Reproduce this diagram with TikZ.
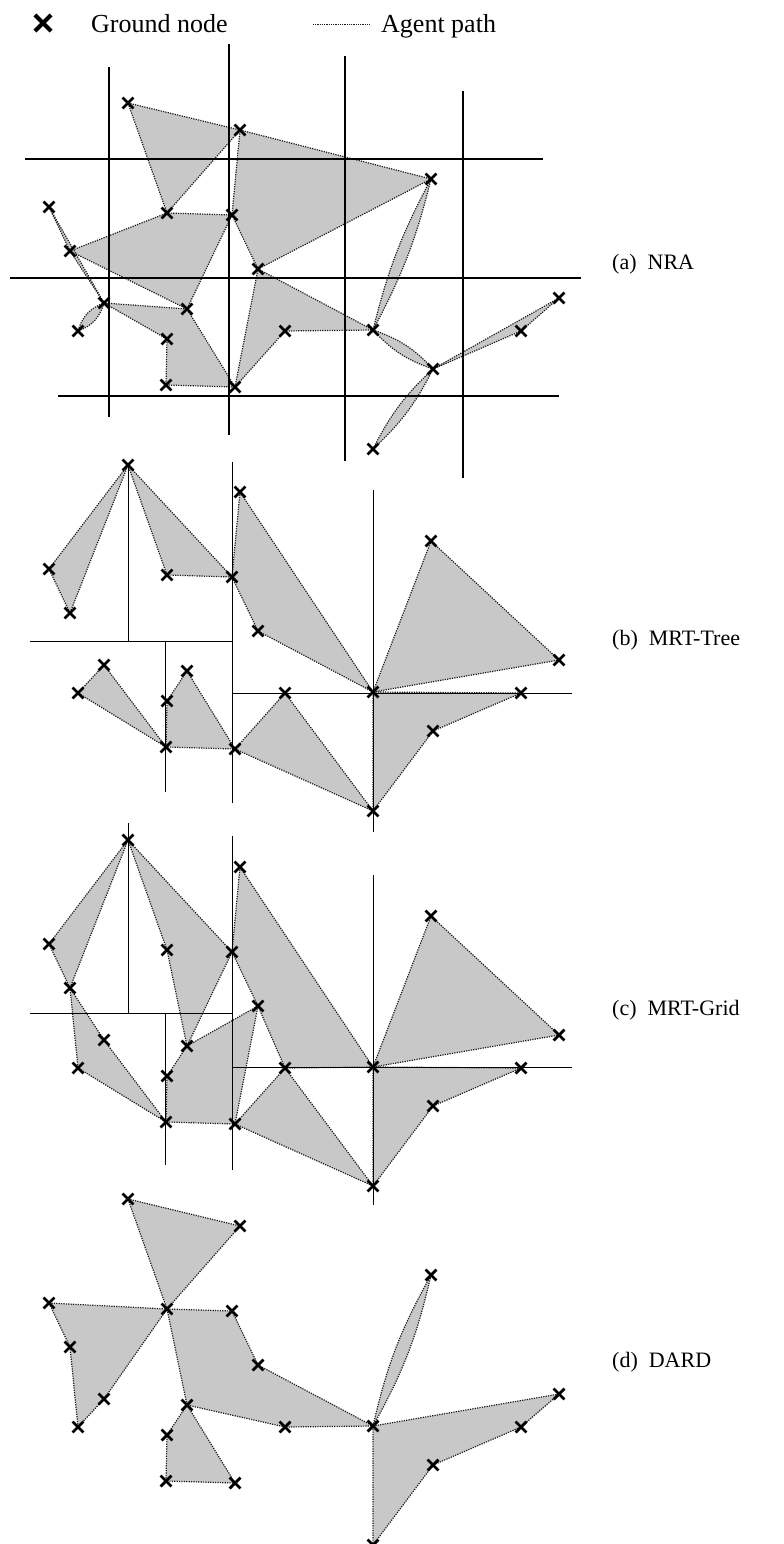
\documentclass[tikz,border=0pt]{standalone}
\usepackage{fontspec}
\setmainfont{Liberation Serif}
\usetikzlibrary{shapes.misc}
\definecolor{fillgray}{RGB}{200,200,200}
\tikzset{
  agent/.style={fill=fillgray, draw=black!90, line width=1.2pt, dash pattern=on 1.2pt off 1.2pt, line join=round},
  partA/.style={draw=black, line width=1.4pt},
  partB/.style={draw=black, line width=1.0pt},
  gnode/.style={cross out, draw=black, line width=2.8pt, minimum size=8pt, inner sep=0pt},
  bignode/.style={cross out, draw=black, line width=4.2pt, minimum size=12pt, inner sep=0pt},
  lbl/.style={anchor=base west, font=\fontsize{22}{26}\selectfont, inner sep=0pt},
  leg/.style={anchor=base west, font=\fontsize{26}{30}\selectfont, inner sep=0pt},
}
\newcommand\defpts[2]{%
  \foreach \n/\px/\py in {1/128/103,2/240/130,3/167/213,4/232/215,5/49/207,6/70/251,7/258/269,8/104/303,9/187/309,10/78/331,11/167/339,12/285/331,13/166/385,14/235/387,15/431/179,16/373/330,17/433/369,18/521/331,19/559/298,20/373/449}
  {\coordinate (#1\n) at (\px,\py+#2);}%
}
\newcommand\crosses[1]{\foreach \n in {1,...,20}{\node[gnode] (x#1\n) at (#1\n) {};}}
\begin{document}
\begin{tikzpicture}[x=1pt,y=-1pt]
\useasboundingbox[fill=white] (0,0) rectangle (784,1544);
\defpts{a}{0}
\defpts{b}{362}
\defpts{c}{737}
\defpts{d}{1096}

% legend
\node[bignode] (lg1) at (43,23) {};
\node[leg] (lg2) at (91,33) {Ground node};
\coordinate (ls) at (313,24);
\coordinate (le) at (370,24);
\draw[agent, fill=none, line width=0.9pt, dash pattern=on 0.9pt off 0.9pt] (ls) -- (le);
\node[leg] (lg3) at (381,33) {Agent path};

% ---------- (a) NRA ----------
\path[agent] (a1) -- (a2) -- (a3) -- cycle;
\path[agent] (a2) -- (a15) -- (a7) -- (a4) -- cycle;
\path[agent] (a6) -- (a3) -- (a4) -- (a9) -- cycle;
\path[agent] (a5) -- (a6) -- (a8) -- cycle;
\path[agent] (a8) to[bend left=27] (a10) to[bend left=27] (a8);
\path[agent] (a8) -- (a9) -- (a14) -- (a13) -- (a11) -- cycle;
\path[agent] (a14) -- (a7) -- (a16) -- (a12) -- cycle;
\path[agent] (a15) to[bend left=7] (a16) to[bend left=7] (a15);
\path[agent] (a16) to[bend left=14] (a17) to[bend left=14] (a16);
\path[agent] (a17) -- (a19) -- (a18) -- cycle;
\path[agent] (a17) to[bend left=10] (a20) to[bend left=10] (a17);
\draw[partA] (109,67) -- (109,417);
\draw[partA] (229,44) -- (229,435);
\draw[partA] (345,56) -- (345,461);
\draw[partA] (463,91) -- (463,478);
\draw[partA] (25,159) -- (543,159);
\draw[partA] (10,278) -- (581,278);
\draw[partA] (58,396) -- (559,396);
\crosses{a}
\node[lbl] (la) at (612,269) {(a)\hspace{0.5em}NRA};

% ---------- (b) MRT-Tree ----------
\path[agent] (b1) -- (b5) -- (b6) -- cycle;
\path[agent] (b1) -- (b3) -- (b4) -- cycle;
\path[agent] (b4) -- (b2) -- (b16) -- (b7) -- cycle;
\path[agent] (b16) -- (b15) -- (b19) -- cycle;
\path[agent] (b16) -- (b18) -- (b17) -- (b20) -- cycle;
\path[agent] (b14) -- (b12) -- (b20) -- cycle;
\path[agent] (b10) -- (b8) -- (b13) -- cycle;
\path[agent] (b13) -- (b11) -- (b9) -- (b14) -- cycle;
\draw[partB] (128,465) -- (128,641);
\draw[partB] (30,641) -- (232,641);
\draw[partB] (232,462) -- (232,803);
\draw[partB] (165,641) -- (165,792);
\draw[partB] (232,693) -- (572,693);
\draw[partB] (373,490) -- (373,832);
\crosses{b}
\node[lbl] (lb) at (612,645) {(b)\hspace{0.5em}MRT-Tree};

% ---------- (c) MRT-Grid ----------
\path[agent] (c1) -- (c5) -- (c6) -- cycle;
\path[agent] (c1) -- (c3) -- (c9) -- (c4) -- cycle;
\path[agent] (c6) -- (c8) -- (c13) -- (c10) -- cycle;
\path[agent] (c9) -- (c7) -- (c14) -- (c13) -- (c11) -- cycle;
\path[agent] (c4) -- (c2) -- (c16) -- (c12) -- (c7) -- cycle;
\path[agent] (c16) -- (c15) -- (c19) -- cycle;
\path[agent] (c16) -- (c18) -- (c17) -- (c20) -- cycle;
\path[agent] (c14) -- (c12) -- (c20) -- cycle;
\draw[partB] (128,823) -- (128,1013);
\draw[partB] (30,1013) -- (232,1013);
\draw[partB] (232,836) -- (232,1170);
\draw[partB] (165,1013) -- (165,1165);
\draw[partB] (232,1067) -- (572,1067);
\draw[partB] (373,875) -- (373,1205);
\crosses{c}
\node[lbl] (lc) at (612,1015) {(c)\hspace{0.5em}MRT-Grid};

% ---------- (d) DARD ----------
\path[agent] (d1) -- (d2) -- (d3) -- cycle;
\path[agent] (d5) -- (d3) -- (d8) -- (d10) -- (d6) -- cycle;
\path[agent] (d3) -- (d4) -- (d7) -- (d16) -- (d12) -- (d9) -- cycle;
\path[agent] (d9) -- (d14) -- (d13) -- (d11) -- cycle;
\path[agent] (d16) to[bend left=8] (d15) to[bend left=8] (d16);
\path[agent] (d16) -- (d19) -- (d18) -- (d17) -- (d20) -- cycle;
\crosses{d}
\node[lbl] (ld) at (612,1367) {(d)\hspace{0.5em}DARD};
\end{tikzpicture}
\end{document}
